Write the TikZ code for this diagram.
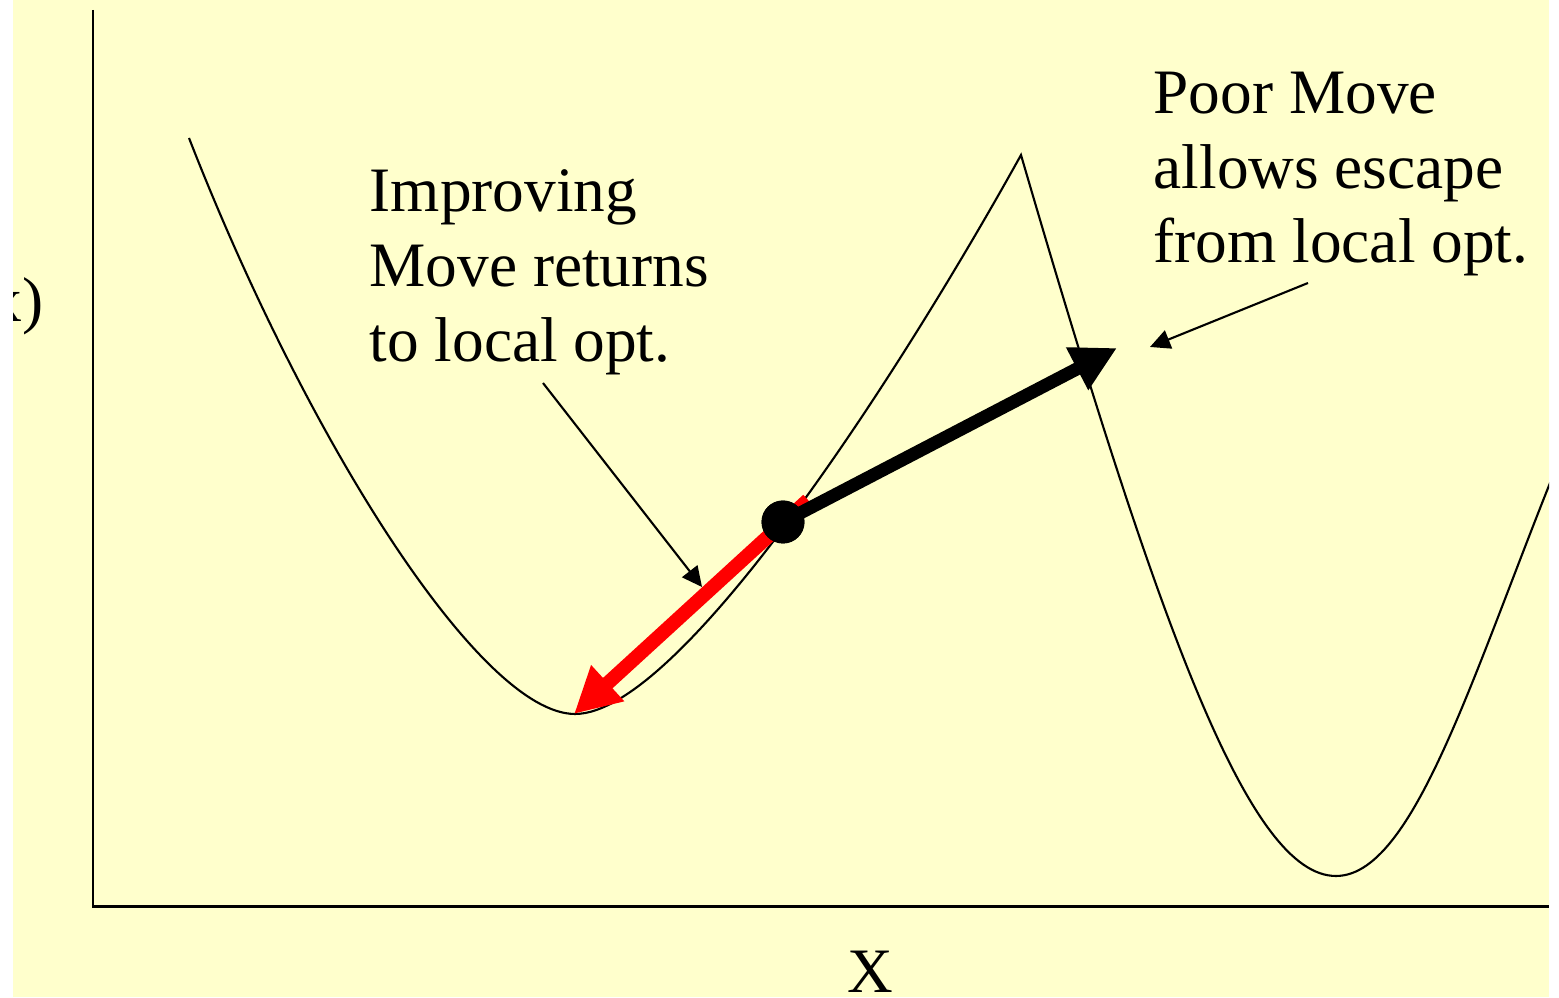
\documentclass[tikz,border=0pt]{standalone}
\usepackage{fontspec}
\setmainfont{Liberation Serif}
\usetikzlibrary{arrows.meta}
\definecolor{bgyellow}{HTML}{FFFFCC}
\begin{document}
\begin{tikzpicture}[x=0.01cm,y=-0.01cm,
  lbl/.style={inner sep=0pt, align=left, font=\fontsize{18}{21.3}\selectfont},
  axisline/.style={line width=0.85pt},
  curveline/.style={line width=0.6pt},
  note/.style={line width=0.6pt, -{Triangle[length=5.7pt,width=5.5pt]}},
  bigblack/.style={line width=3.7pt, -{Triangle[length=12.8pt,width=12.8pt]}},
  bigred/.style={draw=red, line width=4pt, -{Triangle[length=13pt,width=13pt]}, red},
  dotstyle/.style={circle, fill=black, inner sep=0pt, minimum size=12.2pt}
]
\useasboundingbox (0,0) rectangle (1559,998);
\fill[bgyellow] (13,0) rectangle (1549,997);
\begin{scope}
\clip (13,0) rectangle (1549,997);
% axes
\coordinate (ytop) at (93,10);
\coordinate (origin) at (93,907);
\coordinate (xend) at (1549,907);
\draw[axisline] (ytop) -- (origin) -- (xend);
% labels
\node[lbl, anchor=base east] (ylab) at (44,322) {f(x)};
\node[lbl, anchor=base] (xlab) at (870,993) {X};
% curve
\draw[curveline] (189,138) .. controls (306,438) and (480,714) .. (575,714)
  .. controls (680,714) and (899,375) .. (1021,155)
  .. controls (1161,635) and (1250,876) .. (1336,876)
  .. controls (1420,876) and (1482,640) .. (1580,410);
% moves
\coordinate (rstart) at (808,500);
\coordinate (rtip) at (574,714);
\coordinate (btip) at (1117,348);
\draw[bigred] (rstart) -- (rtip);
\node[dotstyle] (dot) at (783,522) {};
\draw[bigblack] (dot.center) -- (btip);
\node[dotstyle] at (dot.center) {};
% annotations
\node[lbl, anchor=north west] (improve) at (369,169) {Improving\\Move returns\\to local opt.};
\node[lbl, anchor=north west] (poor) at (1153,71) {Poor Move\\allows escape\\from local opt.};
\coordinate (n1start) at (543,383);
\coordinate (n1tip) at (702,587);
\coordinate (n2start) at (1308,283);
\coordinate (n2tip) at (1150,347);
\draw[note] (n1start) -- (n1tip);
\draw[note] (n2start) -- (n2tip);
\end{scope}
\end{tikzpicture}
\end{document}
